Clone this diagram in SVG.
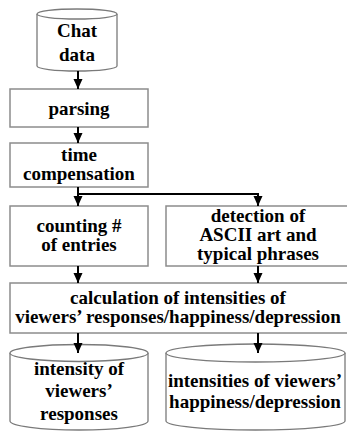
<svg xmlns="http://www.w3.org/2000/svg" width="347" height="433" viewBox="0 0 347 433">
<defs>
<marker id="ah" markerUnits="userSpaceOnUse" markerWidth="10" markerHeight="10" viewBox="0 0 10 10" refX="10" refY="5" orient="auto">
<path d="M0,0.5 L10,5 L0,9.5 z" fill="#000"/>
</marker>
<style>
.box{fill:#fff;stroke:#8c8c8c;stroke-width:1.5}
.cyl{fill:#fff;stroke:#7a7a7a;stroke-width:1.3}
.t{font-weight:bold;font-size:19px;fill:#000;text-anchor:middle}
.c{fill:none;stroke:#000;stroke-width:2}
</style>
</defs>
<rect width="347" height="433" fill="#fff"/>
<g font-family="'Liberation Serif', Tinos, 'DejaVu Serif', serif">
<g id="chat-data">
<path class="cyl" d="M37,14 L37,66 A40,5 0 0 0 117,66 L117,14"/>
<ellipse class="cyl" cx="77" cy="14" rx="40" ry="5"/>
<text class="t" x="77" y="37">Chat</text>
<text class="t" x="77" y="61">data</text>
</g>
<g id="parsing">
<rect class="box" x="10" y="89" width="138" height="38"/>
<text class="t" x="79" y="115">parsing</text>
</g>
<g id="time-compensation">
<rect class="box" x="10" y="143" width="138" height="44"/>
<text class="t" x="79" y="161">time</text>
<text class="t" x="79" y="180">compensation</text>
</g>
<g id="counting">
<rect class="box" x="10" y="206" width="138" height="60"/>
<text class="t" x="79" y="232">counting #</text>
<text class="t" x="79" y="251">of entries</text>
</g>
<g id="detection">
<rect class="box" x="166" y="206" width="190" height="60"/>
<text class="t" x="258" y="222">detection of</text>
<text class="t" x="258" y="241">ASCII art and</text>
<text class="t" x="258" y="260">typical phrases</text>
</g>
<g id="calculation">
<rect class="box" x="10" y="283" width="346" height="50"/>
<text class="t" x="178" y="304">calculation of intensities of</text>
<text class="t" x="178" y="323">viewers’ responses/happiness/depression</text>
</g>
<g id="intensity-responses">
<path class="cyl" d="M10,353 L10,421 A69,9 0 0 0 148,421 L148,353"/>
<ellipse class="cyl" cx="79" cy="353" rx="69" ry="8.5"/>
<text class="t" x="79" y="375">intensity of</text>
<text class="t" x="79" y="397">viewers’</text>
<text class="t" x="79" y="420">responses</text>
</g>
<g id="intensities-happiness">
<path class="cyl" d="M166,353 L166,421 A89.5,9 0 0 0 345,421 L345,353"/>
<ellipse class="cyl" cx="255.5" cy="353" rx="89.5" ry="9"/>
<text class="t" x="255" y="387">intensities of viewers’</text>
<text class="t" x="255" y="408">happiness/depression</text>
</g>
</g>
<g id="connectors">
<path class="c" d="M78,71 L78,89" marker-end="url(#ah)"/>
<path class="c" d="M78,127 L78,143" marker-end="url(#ah)"/>
<path class="c" d="M78,187 L78,206" marker-end="url(#ah)"/>
<path class="c" d="M77,194 L258,194 L258,206" marker-end="url(#ah)"/>
<path class="c" d="M78,266 L78,283" marker-end="url(#ah)"/>
<path class="c" d="M258,266 L258,283" marker-end="url(#ah)"/>
<path class="c" d="M78,333 L78,353" marker-end="url(#ah)"/>
<path class="c" d="M258,333 L258,353" marker-end="url(#ah)"/>
</g>
</svg>
